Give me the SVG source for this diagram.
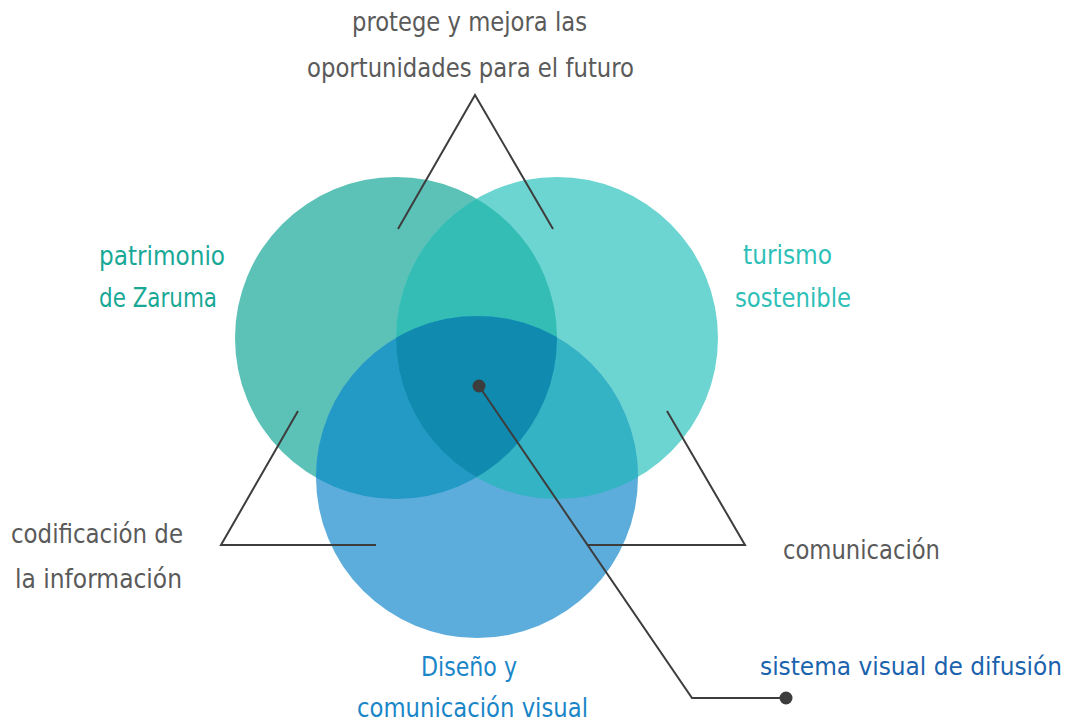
<svg xmlns="http://www.w3.org/2000/svg" width="1068" height="724" viewBox="0 0 1068 724">
<style>
  .t { font-family: "DejaVu Sans Condensed", "DejaVu Sans", sans-serif; font-stretch: condensed; font-size: 27px; }
  .gray { fill: #5a5a5a; }
  .teal { fill: #18a896; }
  .aqua { fill: #2dbfb8; }
  .blue { fill: #1a86c8; }
  .dblue { fill: #1b63ad; }
  .ln { fill: none; stroke: #3d3d3d; stroke-width: 2; }
  .dot { fill: #3d3d3d; }
</style>
<defs>
  <clipPath id="clipA"><circle cx="396" cy="338" r="161"/></clipPath>
  <clipPath id="clipB"><circle cx="557" cy="338" r="161"/></clipPath>
</defs>
<rect width="1068" height="724" fill="#ffffff"/>
<g id="circles">
  <circle id="circle-patrimonio" cx="396" cy="338" r="161" fill="#5cc1b6"/>
  <circle id="circle-turismo" cx="557" cy="338" r="161" fill="#6dd5d1"/>
  <circle id="circle-diseno" cx="477" cy="477" r="161" fill="#5caddb"/>
  <circle cx="557" cy="338" r="161" fill="#33bdb5" clip-path="url(#clipA)"/>
  <circle cx="477" cy="477" r="161" fill="#2399c5" clip-path="url(#clipA)"/>
  <circle cx="477" cy="477" r="161" fill="#33b3c4" clip-path="url(#clipB)"/>
  <g clip-path="url(#clipA)">
    <circle cx="477" cy="477" r="161" fill="#108aaf" clip-path="url(#clipB)"/>
  </g>
</g>
<g id="connectors">
  <polyline class="ln" points="398,229 475,95 553,229"/>
  <polyline class="ln" points="298,411 221,545 376,545"/>
  <polyline class="ln" points="667,411 745,545 588,545"/>
  <polyline class="ln" points="479,386 692,698 786,698"/>
  <circle class="dot" cx="479" cy="386" r="6.5"/>
  <circle class="dot" cx="786" cy="698" r="6.5"/>
</g>
<g id="node-top">
  <text class="t gray" x="352" y="31" textLength="235" lengthAdjust="spacingAndGlyphs">protege y mejora las</text>
  <text class="t gray" x="307" y="77" textLength="327" lengthAdjust="spacingAndGlyphs">oportunidades para el futuro</text>
</g>
<g id="node-patrimonio">
  <text class="t teal" x="99" y="265" textLength="126" lengthAdjust="spacingAndGlyphs">patrimonio</text>
  <text class="t teal" x="99" y="307" textLength="118" lengthAdjust="spacingAndGlyphs">de Zaruma</text>
</g>
<g id="node-turismo">
  <text class="t aqua" x="743" y="264" textLength="89" lengthAdjust="spacingAndGlyphs">turismo</text>
  <text class="t aqua" x="735" y="307" textLength="116" lengthAdjust="spacingAndGlyphs">sostenible</text>
</g>
<g id="node-codificacion">
  <text class="t gray" x="11" y="543" textLength="172" lengthAdjust="spacingAndGlyphs">codificación de</text>
  <text class="t gray" x="15" y="588" textLength="167" lengthAdjust="spacingAndGlyphs">la información</text>
</g>
<g id="node-comunicacion">
  <text class="t gray" x="783" y="559" textLength="157" lengthAdjust="spacingAndGlyphs">comunicación</text>
</g>
<g id="node-diseno">
  <text class="t blue" x="421" y="676" textLength="96" lengthAdjust="spacingAndGlyphs">Diseño y</text>
  <text class="t blue" x="357" y="717" textLength="231" lengthAdjust="spacingAndGlyphs">comunicación visual</text>
</g>
<g id="node-sistema">
  <text class="t dblue" x="760" y="675" style="font-size:24px" textLength="302" lengthAdjust="spacingAndGlyphs">sistema visual de difusión</text>
</g>
</svg>
